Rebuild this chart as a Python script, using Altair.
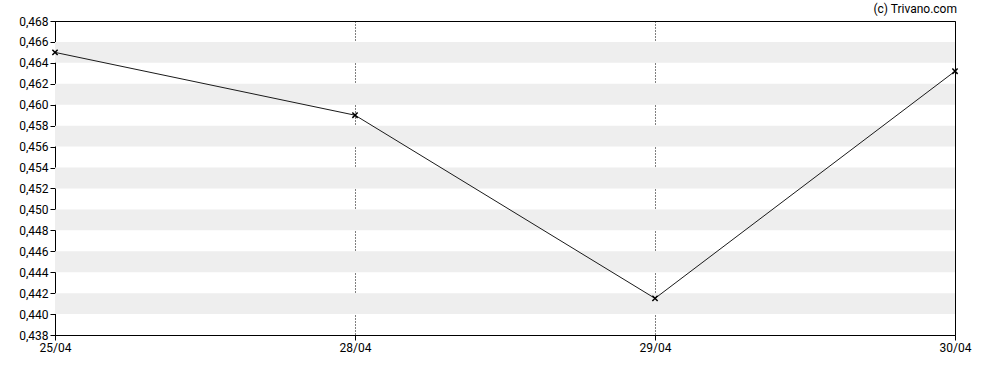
import altair as alt
import pandas as pd

dates = ["25/04", "28/04", "29/04", "30/04"]
prices = [0.4650, 0.4590, 0.4415, 0.4632]
band_lo = [0.440, 0.444, 0.448, 0.452, 0.456, 0.460, 0.464]
band_hi = [0.442, 0.446, 0.450, 0.454, 0.458, 0.462, 0.466]
y_ticks = [0.438, 0.440, 0.442, 0.444, 0.446, 0.448, 0.450, 0.452, 0.454,
           0.456, 0.458, 0.460, 0.462, 0.464, 0.466, 0.468]
credit = "(c) Trivano.com"

df = pd.DataFrame({"date": dates, "price": prices})
bands = pd.DataFrame({"lo": band_lo, "hi": band_hi})

FONT = "Roboto"
FS = 12

x_scale = alt.Scale(type="point", padding=0)
y_scale = alt.Scale(domain=[0.438, 0.468], nice=False, zero=False)

x_axis = alt.Axis(title=None, labelAngle=0, grid=True, gridColor="black",
                  gridDash=[1, 2], gridWidth=1, labelFont=FONT, labelFontSize=FS,
                  labelOverlap=False)
y_axis = alt.Axis(title=None, values=y_ticks, grid=False, labelOverlap=False,
                  labelFont=FONT, labelFontSize=FS,
                  labelExpr="replace(format(datum.value, '.3f'), '.', ',')")

band_layer = alt.Chart(bands).mark_rect(color="#eeeeee").encode(
    y=alt.Y("lo:Q", scale=y_scale, axis=y_axis),
    y2="hi:Q",
    x=alt.value(0), x2=alt.value(900),
)

line = alt.Chart(df).mark_line(
    color="#1a1a1a", strokeWidth=1,
    point=alt.OverlayMarkDef(shape="M-1,-1L1,1M-1,1L1,-1", size=28, filled=False,
                             stroke="#000000", strokeWidth=1.5, opacity=1),
).encode(
    x=alt.X("date:O", sort=dates, scale=x_scale, axis=x_axis),
    y=alt.Y("price:Q", scale=y_scale, axis=y_axis),
)
credit_layer = alt.Chart(pd.DataFrame({"t": [credit]})).mark_text(
    align="right", baseline="alphabetic", font=FONT, fontSize=FS, color="black"
).encode(text="t:N", x=alt.value(902), y=alt.value(-8))

chart = alt.layer(band_layer, line, credit_layer).properties(
    width=900, height=314,
    autosize=alt.AutoSizeParams(type="none"),
    padding={"left": 55, "top": 21, "right": 33, "bottom": 35},
    background="white",
).configure_view(stroke="black", strokeWidth=1).configure_axis(
    labelFont=FONT, labelFontSize=FS, labelColor="black", domainColor="black",
    tickColor="black", tickSize=5, labelPadding=2, labelOverlap=False,
)

chart.save("out.html", embed_options={"renderer": "svg", "actions": False})
